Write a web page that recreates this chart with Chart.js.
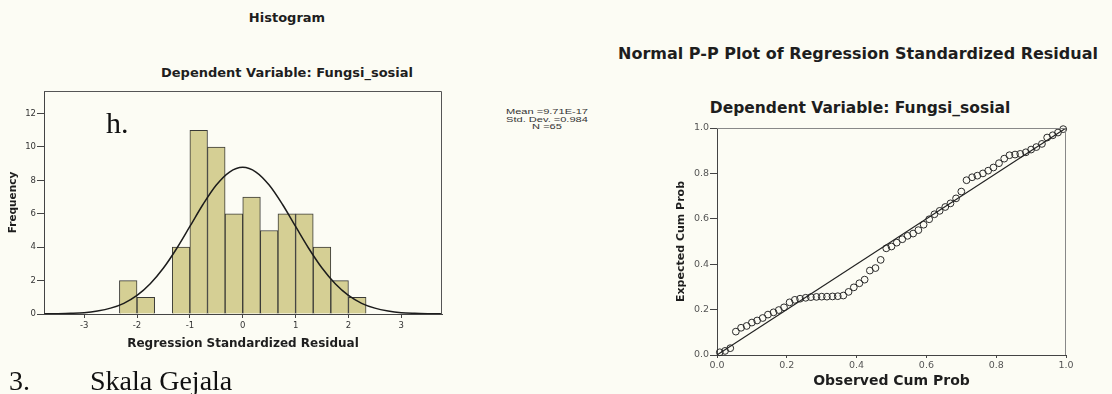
<!DOCTYPE html>
<html>
<head>
<meta charset="utf-8">
<title>Histogram and Normal P-P Plot</title>
<script src="https://cdn.jsdelivr.net/npm/chart.js@4.4.1/dist/chart.umd.min.js"></script>
<style>
  body { margin: 0; width: 1112px; height: 394px; background: #fcfcf4; position: relative; overflow: hidden; font-family: "DejaVu Sans", sans-serif; }
  canvas { position: absolute; top: 0; }
  #hist { left: 0; }
  #pp { left: 560px; }
  .lbl { position: absolute; white-space: nowrap; color: #1e1e1e; font-weight: bold; transform: translate(-50%, -50%); }
  .serif { position: absolute; white-space: nowrap; color: #111; font-family: "Liberation Serif", serif; }
  #stats { position: absolute; left: 547px; top: 108px; transform: translateX(-50%) scaleX(1.38); font-size: 8px; line-height: 7.6px; text-align: center; color: #333; font-family: "Liberation Sans", sans-serif; }
</style>
</head>
<body>

<div class="lbl" style="left:287px; top:17px; font-size:13px;">Histogram</div>
<div class="lbl" style="left:287px; top:72px; font-size:13px;">Dependent Variable: Fungsi_sosial</div>
<div id="stats">Mean =9.71E-17<br>Std. Dev. =0.984<br>N =65</div>
<div class="lbl" style="left:858px; top:53px; font-size:16px;">Normal P-P Plot of Regression Standardized Residual</div>
<div class="lbl" style="left:860px; top:108px; font-size:15.5px;">Dependent Variable: Fungsi_sosial</div>

<canvas id="hist" width="560" height="394"></canvas>
<canvas id="pp" width="552" height="394"></canvas>

<div class="serif" style="left:106px; top:106px; font-size:30px;">h.</div>
<div class="serif" style="left:9px; top:365px; font-size:28px;">3.</div>
<div class="serif" style="left:90px; top:365px; font-size:28px;">Skala Gejala</div>

<script>
// histogram bins (width 1/3)
var binCenters = [-2.1667, -1.8333, -1.5, -1.1667, -0.8333, -0.5, -0.1667, 0.1667, 0.5, 0.8333, 1.1667, 1.5, 1.8333, 2.1667];
var binCounts = [2, 1, 0, 4, 11, 10, 6, 7, 5, 6, 6, 4, 2, 1];

// normal curve
var curveX = [-3.75, -3.5, -3.25, -3, -2.75, -2.5, -2.25, -2, -1.75, -1.5, -1.25, -1, -0.75, -0.5, -0.25, 0,
              0.25, 0.5, 0.75, 1, 1.25, 1.5, 1.75, 2, 2.25, 2.5, 2.75, 3, 3.25, 3.5, 3.75];
var curveY = [0.01, 0.02, 0.04, 0.08, 0.18, 0.35, 0.64, 1.11, 1.81, 2.75, 3.92, 5.24, 6.57, 7.72, 8.50, 8.78,
              8.50, 7.72, 6.57, 5.24, 3.92, 2.75, 1.81, 1.11, 0.64, 0.35, 0.18, 0.08, 0.04, 0.02, 0.01];

var histXTicks = [-3, -2, -1, 0, 1, 2, 3];
var histYTicks = [0, 2, 4, 6, 8, 10, 12];

// P-P plot points
var ppObserved = [0.008, 0.023, 0.038, 0.054, 0.069, 0.085, 0.100, 0.115, 0.131, 0.146, 0.162, 0.177, 0.192,
                  0.208, 0.223, 0.238, 0.254, 0.269, 0.285, 0.300, 0.315, 0.331, 0.346, 0.362, 0.377, 0.392,
                  0.408, 0.423, 0.438, 0.454, 0.469, 0.485, 0.500, 0.515, 0.531, 0.546, 0.562, 0.577, 0.592,
                  0.608, 0.623, 0.638, 0.654, 0.669, 0.685, 0.700, 0.715, 0.731, 0.746, 0.762, 0.777, 0.792,
                  0.808, 0.823, 0.838, 0.854, 0.869, 0.885, 0.900, 0.915, 0.931, 0.946, 0.962, 0.977, 0.992];
var ppExpected = [0.012, 0.018, 0.030, 0.103, 0.120, 0.128, 0.143, 0.152, 0.163, 0.178, 0.188, 0.198, 0.210,
                  0.232, 0.243, 0.248, 0.252, 0.255, 0.256, 0.257, 0.257, 0.258, 0.259, 0.262, 0.278, 0.298,
                  0.316, 0.332, 0.372, 0.383, 0.419, 0.470, 0.478, 0.495, 0.510, 0.525, 0.535, 0.550, 0.574,
                  0.598, 0.620, 0.635, 0.652, 0.668, 0.690, 0.720, 0.770, 0.783, 0.790, 0.800, 0.812, 0.826,
                  0.845, 0.865, 0.880, 0.883, 0.886, 0.893, 0.905, 0.916, 0.930, 0.958, 0.968, 0.980, 0.995];
var ppTicks = [0, 0.2, 0.4, 0.6, 0.8, 1.0];

Chart.defaults.font.family = '"DejaVu Sans", sans-serif';
Chart.defaults.color = '#333';

function toPoints(xs, ys) {
    var pts = [];
    for (var i = 0; i < xs.length; i++) {
        pts.push({ x: xs[i], y: ys[i] });
    }
    return pts;
}

function fixedTicks(list) {
    return function (scale) {
        scale.ticks = list.map(function (v) { return { value: v }; });
    };
}

function fixedSize(w, h) {
    return function (scale) {
        if (w != null) scale.width = w;
        if (h != null) scale.height = h;
        scale.paddingLeft = 0; scale.paddingRight = 0;
        scale.paddingTop = 0; scale.paddingBottom = 0;
    };
}

function framePlugin(color) {
    return {
        id: 'frame',
        afterDatasetsDraw: function (chart) {
            var a = chart.chartArea, ctx = chart.ctx;
            ctx.save();
            ctx.strokeStyle = color;
            ctx.lineWidth = 1;
            ctx.beginPath();
            ctx.moveTo(a.left, a.top + 0.5);
            ctx.lineTo(a.right - 0.5, a.top + 0.5);
            ctx.lineTo(a.right - 0.5, a.bottom);
            ctx.stroke();
            ctx.restore();
        }
    };
}

var histChart = new Chart(document.getElementById('hist'), {
    type: 'bar',
    data: {
        datasets: [{
            type: 'line',
            data: toPoints(curveX, curveY),
            borderColor: '#1c1c1c',
            borderWidth: 1.5,
            pointRadius: 0,
            cubicInterpolationMode: 'monotone',
            order: 1
        }, {
            type: 'bar',
            data: toPoints(binCenters, binCounts),
            backgroundColor: '#d5cf94',
            borderColor: '#3a3a36',
            borderWidth: 1,
            barPercentage: 1,
            categoryPercentage: 1,
            order: 2
        }]
    },
    options: {
        responsive: false,
        animation: false,
        layout: { padding: { left: 0, right: 118, top: 91, bottom: 39 } },
        plugins: { legend: { display: false }, tooltip: { enabled: false } },
        scales: {
            x: {
                type: 'linear',
                min: -3.76, max: 3.77,
                offset: false,
                afterBuildTicks: fixedTicks(histXTicks),
                afterFit: fixedSize(null, 41),
                grid: { offset: false, drawOnChartArea: false, tickLength: 4, tickColor: '#444' },
                border: { color: '#444' },
                ticks: { font: { size: 8.5 }, padding: 3 },
                title: { display: true, text: 'Regression Standardized Residual', color: '#1e1e1e', font: { size: 12, weight: 'bold' } }
            },
            y: {
                min: 0, max: 13.35,
                afterBuildTicks: fixedTicks(histYTicks),
                afterFit: fixedSize(44, null),
                grid: { drawOnChartArea: false, tickLength: 7, tickColor: '#444' },
                border: { color: '#444' },
                ticks: { font: { size: 8.5 }, padding: 1 },
                title: { display: true, text: 'Frequency', color: '#1e1e1e', padding: { top: 7, bottom: 4 }, font: { size: 10.5, weight: 'bold' } }
            }
        }
    },
    plugins: [framePlugin('#555')]
});

var ppChart = new Chart(document.getElementById('pp'), {
    type: 'scatter',
    data: {
        datasets: [{
            data: toPoints([0, 1], [0, 1]),
            showLine: true,
            borderColor: '#222',
            borderWidth: 1.1,
            pointRadius: 0
        }, {
            data: toPoints(ppObserved, ppExpected),
            pointRadius: 3.4,
            pointBorderWidth: 1,
            pointBorderColor: '#2a2a2a',
            pointBackgroundColor: 'rgba(0,0,0,0)',
            clip: false
        }]
    },
    options: {
        responsive: false,
        animation: false,
        layout: { padding: { left: 112, right: 46, top: 128, bottom: 0 } },
        plugins: { legend: { display: false }, tooltip: { enabled: false } },
        scales: {
            x: {
                min: 0, max: 1,
                afterBuildTicks: fixedTicks(ppTicks),
                afterFit: fixedSize(null, 39),
                grid: { drawOnChartArea: false, tickLength: 3, tickColor: '#444' },
                border: { color: '#444' },
                ticks: { font: { size: 9.5 }, padding: 2, color: '#555', callback: function (v) { return v.toFixed(1); } },
                title: { display: true, text: 'Observed Cum Prob', color: '#1e1e1e', font: { size: 14, weight: 'bold' } }
            },
            y: {
                min: 0, max: 1,
                afterBuildTicks: fixedTicks(ppTicks),
                afterFit: fixedSize(45, null),
                grid: { drawOnChartArea: false, tickLength: 7, tickColor: '#444' },
                border: { color: '#444' },
                ticks: { font: { size: 9.5 }, padding: 1, color: '#555', callback: function (v) { return v.toFixed(1); } },
                title: { display: true, text: 'Expected Cum Prob', color: '#1e1e1e', padding: { top: 3, bottom: 4 }, font: { size: 11, weight: 'bold' } }
            }
        }
    },
    plugins: [framePlugin('#888')]
});
</script>
</body>
</html>
